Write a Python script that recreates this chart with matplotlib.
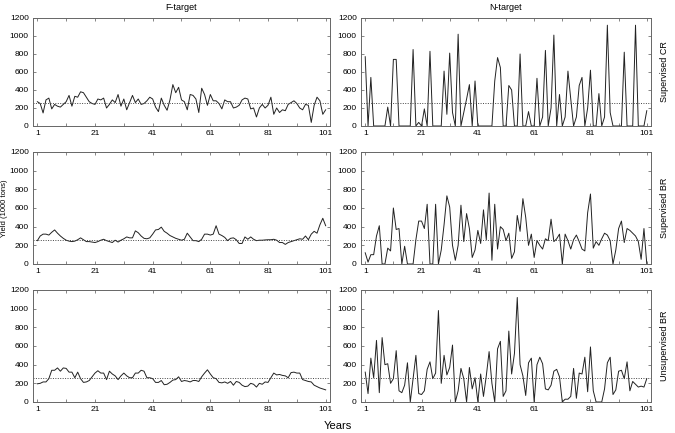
import numpy as np
import matplotlib
matplotlib.use("Agg")
import matplotlib.pyplot as plt
from matplotlib.ticker import MultipleLocator, FixedLocator

plt.rcParams["font.family"] = ["Liberation Sans", "DejaVu Sans"]

# -----------------------------
# Data
# -----------------------------
years = np.arange(1, 102)
reference_yield = 260

f_sup_cr = [270, 250, 145, 290, 310, 190, 240, 220, 210, 240,
            270, 340, 220, 330, 320, 380, 370, 320, 270, 250,
            240, 300, 290, 310, 200, 240, 290, 260, 350, 220,
            300, 180, 260, 340, 260, 300, 240, 250, 280, 320,
            300, 210, 160, 310, 230, 175, 290, 460, 370, 430,
            290, 270, 180, 350, 340, 300, 150, 420, 350, 230,
            350, 280, 280, 250, 190, 290, 270, 270, 200, 210,
            230, 290, 310, 300, 190, 200, 100, 200, 240, 200,
            230, 320, 130, 200, 150, 180, 170, 240, 260, 280,
            250, 200, 180, 240, 230, 40, 230, 320, 280, 130,
            180]

n_sup_cr = [770, 0, 540, 0, 0, 0, 0, 0, 210, 0,
            740, 740, 0, 0, 0, 0, 0, 850, 0, 40,
            0, 190, 0, 830, 0, 0, 0, 0, 610, 130,
            810, 150, 0, 1020, 0, 150, 300, 460, 0, 500,
            0, 0, 0, 0, 0, 0, 500, 760, 650, 0,
            0, 450, 400, 0, 0, 800, 0, 0, 160, 0,
            0, 530, 0, 100, 840, 0, 200, 1010, 0, 350,
            0, 100, 610, 300, 0, 100, 450, 540, 0, 200,
            620, 0, 0, 360, 0, 100, 1120, 150, 0, 0,
            0, 0, 820, 0, 0, 0, 1120, 0, 0, 0,
            170]

f_sup_br = [250, 300, 320, 320, 310, 340, 365, 330, 300, 275,
            255, 245, 240, 245, 260, 280, 260, 240, 240, 235,
            230, 240, 255, 265, 250, 240, 230, 255, 235, 255,
            270, 290, 280, 280, 355, 335, 300, 275, 270, 280,
            320, 365, 370, 395, 350, 330, 305, 290, 275, 265,
            255, 265, 330, 290, 250, 250, 240, 265, 320, 320,
            310, 320, 410, 320, 305, 285, 250, 275, 280, 260,
            220, 220, 290, 265, 290, 265, 250, 255, 255, 258,
            260, 260, 265, 255, 230, 230, 210, 230, 240, 250,
            260, 270, 265, 300, 260, 320, 350, 330, 420, 490,
            410]

n_sup_br = [120, 20, 100, 100, 300, 410, 0, 0, 170, 140,
            600, 370, 380, 0, 190, 0, 0, 0, 260, 460,
            460, 380, 640, 0, 0, 640, 0, 150, 420, 730,
            610, 200, 40, 200, 630, 240, 540, 380, 70, 150,
            360, 220, 580, 260, 760, 40, 640, 160, 400, 370,
            250, 330, 60, 130, 520, 350, 700, 500, 200, 320,
            70, 250, 200, 160, 270, 250, 480, 240, 270, 320,
            0, 320, 250, 160, 260, 310, 240, 160, 140, 550,
            750, 170, 240, 200, 270, 330, 310, 250, 0, 150,
            380, 460, 230, 380, 360, 330, 300, 240, 50, 380,
            0]

f_unsup_br = [195, 200, 215, 215, 250, 340, 340, 365, 330, 365,
              360, 320, 320, 260, 320, 250, 210, 215, 230, 270,
              310, 335, 310, 310, 240, 330, 300, 280, 240, 280,
              310, 280, 260, 260, 310, 310, 340, 330, 260, 260,
              250, 210, 210, 230, 185, 190, 210, 235, 240, 270,
              220, 230, 225, 215, 230, 230, 220, 270, 310, 345,
              300, 260, 250, 210, 205, 215, 200, 220, 180, 220,
              210, 180, 165, 170, 200, 190, 160, 200, 190, 215,
              210, 260, 310, 290, 295, 285, 280, 260, 315, 320,
              310, 310, 240, 230, 220, 215, 180, 165, 150, 140,
              130]

n_unsup_br = [320, 90, 470, 260, 660, 100, 690, 400, 410, 200,
              250, 550, 120, 100, 180, 420, 0, 250, 500, 90,
              80, 120, 350, 430, 250, 310, 980, 200, 500, 290,
              370, 610, 0, 120, 360, 250, 0, 370, 140, 260,
              0, 300, 60, 280, 540, 200, 0, 570, 650, 60,
              120, 760, 300, 520, 1120, 400, 280, 70, 420, 470,
              0, 400, 480, 410, 140, 130, 180, 330, 350, 270,
              0, 30, 30, 60, 360, 40, 310, 300, 480, 110,
              590, 120, 0, 0, 0, 140, 420, 480, 80, 130,
              330, 340, 250, 430, 120, 220, 190, 160, 170, 160,
              250]

col_titles = ["F-target", "N-target"]
row_labels = ["Supervised CR", "Supervised BR", "Unsupervised BR"]
series = [[f_sup_cr, n_sup_cr], [f_sup_br, n_sup_br], [f_unsup_br, n_unsup_br]]

# -----------------------------
# Layout (pixels of a 675x433 figure)
# -----------------------------
W, H = 675, 433
col_px = [(33, 330), (361, 651)]
row_px = [(18, 126), (152, 264), (290, 402)]

fig = plt.figure(figsize=(W / 100, H / 100), dpi=100)

for r, (top, bot) in enumerate(row_px):
    for c, (left, right) in enumerate(col_px):
        ax = fig.add_axes([left / W, 1 - bot / H, (right - left) / W, (bot - top) / H])
        ax.plot(years, series[r][c], color="#222222", lw=0.7)
        ax.axhline(reference_yield, color="#444444", lw=0.7, ls=(0, (1, 1.5)))
        ax.set_xlim(-0.5, 102.5)
        ax.set_ylim(0, 1200)
        ax.xaxis.set_major_locator(FixedLocator([1, 21, 41, 61, 81, 101]))
        ax.xaxis.set_minor_locator(FixedLocator([11, 31, 51, 71, 91]))
        ax.yaxis.set_major_locator(MultipleLocator(200))
        ax.tick_params(which="both", direction="in", top=True, right=True,
                       labelsize=6, length=2, width=0.5, color="#555555", pad=3)
        for s in ax.spines.values():
            s.set_color("#666666")
            s.set_linewidth(0.7)
        if r == 0:
            ax.set_title(col_titles[c], fontsize=6.5, pad=6)
        if c == 1:
            ax.text(1.045, 0.5, row_labels[r], transform=ax.transAxes, rotation=90,
                    ha="center", va="center", fontsize=6.5)
        if r == 1 and c == 0:
            ax.set_ylabel("Yield (1000 tons)", fontsize=5.5)
            ax.yaxis.set_label_coords((8 - left) / (right - left), 0.5)

fig.text(338 / W, 1 - 426 / H, "Years", ha="center", va="center", fontsize=8)

fig.savefig("out.png", dpi=100)
